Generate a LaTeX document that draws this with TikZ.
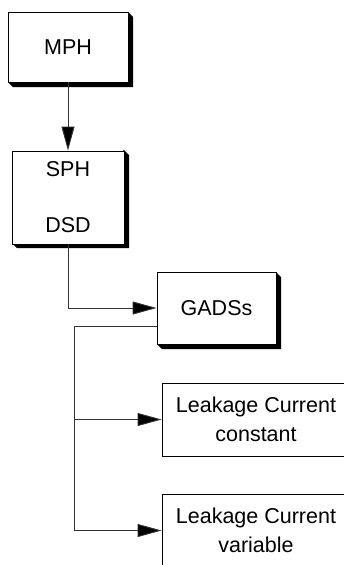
\documentclass[tikz,border=0pt]{standalone}
\usepackage{fontspec}
\setmainfont{Liberation Sans}
\usetikzlibrary{arrows.meta,calc}
\begin{document}
\begin{tikzpicture}[x=1pt,y=-1pt,
  box/.style={draw=black,line width=0.9pt,fill=white,inner sep=0pt,align=center,
    font=\fontsize{21.5}{29.5}\selectfont},
  arr/.style={draw=black!80,line width=0.9pt,-{Triangle[length=24pt,width=13pt,fill=black]}},
  conn/.style={draw=black!80,line width=0.9pt}]
\useasboundingbox (0,0) rectangle (344,565);
\begin{scope}
\clip (0,0) rectangle (344,565);
% shadows
\newcommand{\dropshadow}[4]{\fill[black] (#2,#3) -- ++(5,5) -- (#2+5,#4+5) -- (#1+5,#4+5) -- (#1,#4) -- cycle;}
\dropshadow{8}{128}{12}{82}
\dropshadow{12}{124}{150}{243}
\dropshadow{157}{276}{272}{344}
\node[box,minimum width=120pt,minimum height=70pt] (MPH) at (68,47) {MPH};
\node[box,minimum width=112pt,minimum height=93pt,font=\fontsize{21.5}{56}\selectfont] (SPH) at (68,197.5) {SPH\\DSD};
\node[box,minimum width=119pt,minimum height=72pt] (GADSs) at (216.5,308) {GADSs};
\node[box,minimum width=188pt,minimum height=73pt] (L1) at (256,419.5) {Leakage Current\\constant};
\node[box,minimum width=188pt,minimum height=73pt] (L2) at (256,530.5) {Leakage Current\\variable};
\draw[arr] (MPH.south) -- (SPH.north);
\draw[arr] (SPH.south) |- (GADSs.west);
\coordinate (gout) at ($(GADSs.west)+(0,18)$);
\coordinate (trunk) at (74,326);
\draw[arr] (gout) -- (trunk) |- (L2.west);
\draw[arr] (trunk |- L1.west) -- (L1.west);
\end{scope}
\end{tikzpicture}
\end{document}
